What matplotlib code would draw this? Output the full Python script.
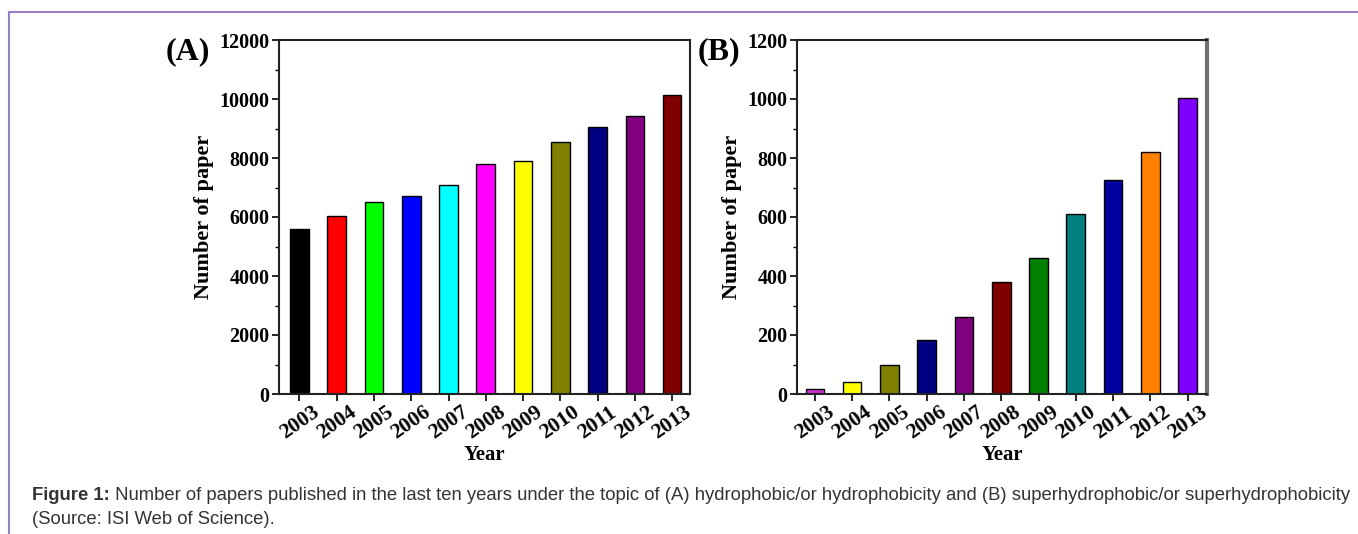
import matplotlib.pyplot as plt
import numpy as np

years = ['2003', '2004', '2005', '2006', '2007', '2008', '2009', '2010', '2011', '2012', '2013']

# (A) hydrophobic / hydrophobicity
papers_a = [5600, 6050, 6500, 6700, 7100, 7800, 7900, 8550, 9050, 9420, 10150]
colors_a = ['#000000', '#ff0000', '#00ff00', '#0000ff', '#00ffff', '#ff00ff',
            '#ffff00', '#808000', '#000080', '#800080', '#800000']

# (B) superhydrophobic / superhydrophobicity
papers_b = [17, 40, 97, 183, 260, 380, 460, 610, 725, 820, 1004]
colors_b = ['#d42ad4', '#ffff00', '#808000', '#000080', '#800080', '#800000',
            '#008000', '#008080', '#0000a0', '#ff8000', '#8000ff']

caption_bold = 'Figure 1:'
caption_rest = (' Number of papers published in the last ten years under the topic of '
                '(A) hydrophobic/or hydrophobicity and (B) superhydrophobic/or superhydrophobicity')
caption_line2 = '(Source: ISI Web of Science).'

serif = 'Liberation Serif'

fig = plt.figure(figsize=(13.58, 5.34), dpi=100)

# purple frame lines (top and left)
fig.add_artist(plt.Line2D([9 / 1358, 1], [1 - 12 / 534, 1 - 12 / 534], color='#9a80cc', lw=1.5))
fig.add_artist(plt.Line2D([9 / 1358, 9 / 1358], [0, 1 - 12 / 534], color='#9a80cc', lw=1.5))


def draw_panel(rect, values, colors, ymax, step, xlim, tag, tag_x):
    ax = fig.add_axes(rect)
    x = np.arange(len(years))
    ax.bar(x, values, width=0.5, color=colors, edgecolor='black', linewidth=1)
    ax.set_xlim(*xlim)
    ax.set_ylim(0, ymax)
    ax.set_yticks(np.arange(0, ymax + 1, step))
    ax.set_yticks(np.arange(step / 2, ymax, step), minor=True)
    ax.set_xticks(x)
    ax.set_xticklabels(years, rotation=35, ha='center')
    ax.tick_params(axis='y', which='major', direction='out', length=5, width=1.2,
                   labelsize=14.5, pad=2)
    ax.tick_params(axis='x', which='major', direction='out', length=5, width=1.2,
                   labelsize=15.5, pad=1)
    ax.tick_params(axis='y', which='minor', direction='out', length=3, width=1)
    ax.tick_params(axis='x', which='minor', bottom=False)
    for lab in ax.get_xticklabels() + ax.get_yticklabels():
        lab.set_fontfamily(serif)
        lab.set_fontweight('bold')
    for s in ax.spines.values():
        s.set_linewidth(1.5)
        s.set_color('#222222')
    ax.set_ylabel('Number of paper', fontfamily=serif, fontweight='bold', fontsize=16, labelpad=4)
    ax.set_xlabel('Year', fontfamily=serif, fontweight='bold', fontsize=15, labelpad=1)
    fig.text(tag_x, 0.903, tag, fontfamily=serif, fontweight='bold', fontsize=23,
             ha='center', va='center')
    return ax


ax_a = draw_panel([279 / 1358, 140 / 534, 411 / 1358, 354 / 534], papers_a, colors_a,
                  12000, 2000, (-0.55, 10.48), '(A)', 188 / 1358)
ax_b = draw_panel([797 / 1358, 140 / 534, 410 / 1358, 354 / 534], papers_b, colors_b,
                  1200, 200, (-0.48, 10.52), '(B)', 719 / 1358)
ax_b.spines['right'].set_color('#707070')
ax_b.spines['right'].set_linewidth(3)

# caption
cap_size = 13.3
t1 = fig.text(32 / 1358, 1 - 500 / 534, caption_bold, fontfamily='Liberation Sans',
              fontweight='bold', fontsize=cap_size, color='#333333', va='baseline')
fig.canvas.draw()
bb = t1.get_window_extent()
fig.text(bb.x1 / 1358, 1 - 500 / 534, caption_rest, fontfamily='Liberation Sans',
         fontsize=cap_size, color='#333333', va='baseline')
fig.text(32 / 1358, 1 - 524 / 534, caption_line2, fontfamily='Liberation Sans',
         fontsize=cap_size, color='#333333', va='baseline')

fig.savefig('out.png', dpi=100)
